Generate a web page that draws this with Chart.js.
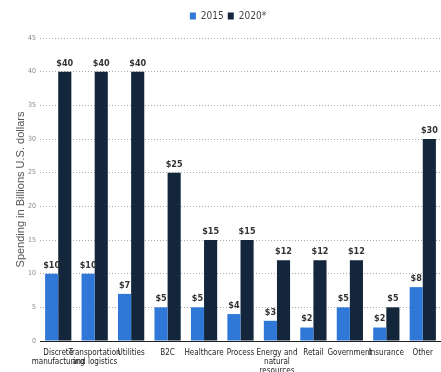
<!DOCTYPE html>
<html>
<head>
<meta charset="utf-8">
<script src="https://cdn.jsdelivr.net/npm/chart.js@4"></script>
<style>
  html, body { margin: 0; padding: 0; background: #fff; }
  #wrap { width: 441px; height: 372px; }
</style>
</head>
<body>
<div id="wrap"><canvas id="c" width="441" height="372"></canvas></div>
<script>
// IoT spending by industry, in billions of U.S. dollars
const categories = [
  ["Discrete", "manufacturing"],
  ["Transportation", "and logistics"],
  "Utilities",
  "B2C",
  "Healthcare",
  "Process",
  ["Energy and", "natural", "resources"],
  "Retail",
  "Government",
  "Insurance",
  "Other"
];
const spending2015 = [10, 10, 7, 5, 5, 4, 3, 2, 5, 2, 8];
const spending2020 = [40, 40, 40, 25, 15, 15, 12, 12, 12, 5, 30];
const seriesNames = ["2015", "2020*"];
const yTicks = [0, 5, 10, 15, 20, 25, 30, 35, 40, 45];

const NARROW = "'DejaVu Sans Condensed', 'Liberation Sans Narrow', sans-serif";

// Writes "$value" above each bar
const valueLabels = {
  id: 'valueLabels',
  afterDatasetsDraw(chart) {
    const ctx = chart.ctx;
    ctx.save();
    ctx.font = "bold 9px " + NARROW;
    ctx.fillStyle = '#333';
    ctx.textAlign = 'center';
    ctx.textBaseline = 'bottom';
    chart.data.datasets.forEach((ds, i) => {
      chart.getDatasetMeta(i).data.forEach((bar, j) => {
        ctx.fillText('$' + ds.data[j], bar.x, bar.y - 4);
      });
    });
    ctx.restore();
  }
};

// Leaves extra room under the legend
const legendGap = {
  id: 'legendGap',
  beforeInit(chart) {
    const fit = chart.legend.fit;
    chart.legend.fit = function () {
      fit.call(this);
      this.height += 7;
    };
  }
};

new Chart(document.getElementById('c'), {
  type: 'bar',
  data: {
    labels: categories,
    datasets: [
      { label: seriesNames[0], data: spending2015, backgroundColor: '#2f78d8' },
      { label: seriesNames[1], data: spending2020, backgroundColor: '#13263c' }
    ]
  },
  options: {
    responsive: false,
    animation: false,
    devicePixelRatio: 1,
    layout: { padding: { left: 15, right: 0, top: 7, bottom: 0 } },
    datasets: { bar: { categoryPercentage: 0.72, barPercentage: 1.0 } },
    plugins: {
      legend: {
        position: 'top',
        labels: {
          font: { family: NARROW, size: 10 },
          color: '#444',
          boxWidth: 6,
          boxHeight: 7,
          padding: 4
        }
      },
      tooltip: { enabled: false }
    },
    scales: {
      x: {
        grid: { display: false, drawTicks: false },
        border: { color: '#222', width: 1 },
        ticks: {
          font: { family: NARROW, size: 8, lineHeight: 1.15 },
          color: '#222',
          maxRotation: 0,
          autoSkip: false,
          padding: 7
        },
        afterFit(scale) { scale.height = 31; }
      },
      y: {
        min: 0,
        max: 45,
        afterBuildTicks(scale) { scale.ticks = yTicks.map(v => ({ value: v })); },
        grid: {
          color: '#aaa',
          lineWidth: 1,
          drawTicks: false
        },
        border: { display: false, dash: [1, 2] },
        ticks: {
          font: { family: NARROW, size: 7 },
          color: '#888',
          padding: 4
        },
        title: {
          display: true,
          text: 'Spending in Billions U.S. dollars',
          font: { family: "'Liberation Sans', Arial, sans-serif", size: 11, lineHeight: 1.1 },
          color: '#555',
          padding: 0
        },
        afterFit(scale) { scale.width = 25; }
      }
    }
  },
  plugins: [valueLabels, legendGap]
});
</script>
</body>
</html>
